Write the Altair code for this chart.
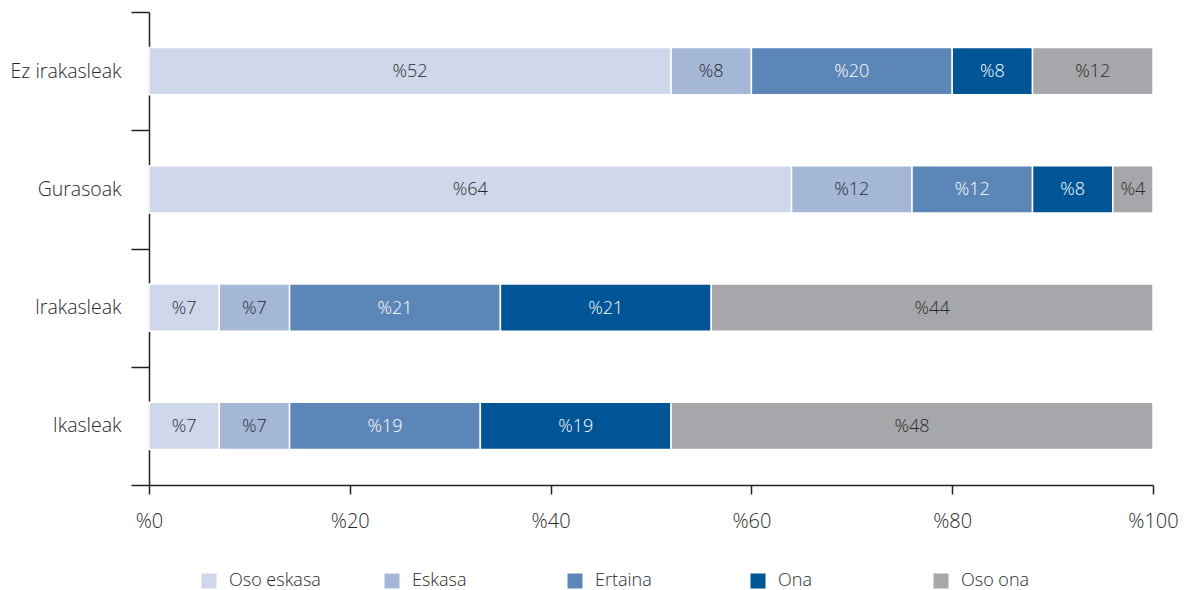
import altair as alt
import pandas as pd

groups = ["Ez irakasleak", "Gurasoak", "Irakasleak", "Ikasleak"]
categories = ["Oso eskasa", "Eskasa", "Ertaina", "Ona", "Oso ona"]
colors = ["#CFD8EA", "#A4B7D7", "#5D86B8", "#005596", "#A6A7AB"]
values = {
    "Ez irakasleak": [52, 8, 20, 8, 12],
    "Gurasoak": [64, 12, 12, 8, 4],
    "Irakasleak": [7, 7, 21, 21, 44],
    "Ikasleak": [7, 7, 19, 19, 48],
}
x_ticks = [0, 20, 40, 60, 80, 100]

rows = []
for g in groups:
    for i, c in enumerate(categories):
        rows.append({"group": g, "cat": c, "idx": i, "value": values[g][i]})
df = pd.DataFrame(rows)

FONT = "Open Sans"
WEIGHT = 300
TXT = "#2a2a2a"

base = alt.Chart(df).transform_stack(
    stack="value", groupby=["group"], sort=[{"field": "idx", "order": "ascending"}], as_=["x0", "x1"]
).transform_calculate(mid="(datum.x0 + datum.x1) / 2")

yenc = alt.Y(
    "group:N",
    sort=groups,
    title=None,
    scale=alt.Scale(paddingInner=0, paddingOuter=0),
    axis=alt.Axis(
        tickBand="extent",
        tickSize=18,
        labelPadding=10,
        labelFontSize=19.5,
        labelColor=TXT,
        labelFont=FONT,
        labelFontWeight=WEIGHT,
        domainColor="#222222",
        tickColor="#222222",
        domainWidth=1.5,
        tickWidth=1.5,
    ),
)

bars = base.mark_bar(height={"band": 0.4}, stroke="white", strokeWidth=1.5).encode(
    x=alt.X(
        "x0:Q",
        scale=alt.Scale(domain=[0, 100], nice=False),
        title=None,
        axis=alt.Axis(
            values=x_ticks,
            labelExpr="'%' + datum.value",
            labelFlush=False,
            tickSize=9,
            labelPadding=17,
            labelFontSize=20,
            labelColor=TXT,
            labelFont=FONT,
            labelFontWeight=WEIGHT,
            grid=False,
            domainColor="#222222",
            tickColor="#222222",
            domainWidth=1.5,
            tickWidth=1.5,
        ),
    ),
    x2="x1:Q",
    y=yenc,
    color=alt.Color(
        "cat:N",
        scale=alt.Scale(domain=categories, range=colors),
        legend=alt.Legend(
            title=None,
            orient="none",
            legendX=51,
            legendY=560,
            direction="horizontal",
            columns=5,
            gridAlign="all",
            symbolType="square",
            symbolSize=225,
            symbolStrokeWidth=0,
            symbolOpacity=1,
            labelFontSize=18,
            labelFont=FONT,
            labelFontWeight=WEIGHT,
            labelColor=TXT,
            labelOffset=11,
            columnPadding=62,
            padding=0,
        ),
    ),
    order=alt.Order("idx:Q"),
)

labels = base.mark_text(
    fontSize=18, font=FONT, fontWeight=WEIGHT, baseline="middle", align="center", dy=1
).encode(
    x=alt.X("mid:Q"),
    y=alt.Y("group:N", sort=groups),
    text=alt.Text("label:N"),
    color=alt.condition(
        "datum.cat == 'Ertaina' || datum.cat == 'Ona'", alt.value("white"), alt.value(TXT)
    ),
).transform_calculate(label="'%' + datum.value")

chart = alt.layer(bars, labels).properties(
    width=1004,
    height=473,
    autosize=alt.AutoSizeParams(type="none"),
    padding={"left": 141, "top": 4, "right": 25, "bottom": 105},
).configure_view(stroke=None)

chart.save("out.html", embed_options={"renderer": "svg", "actions": False})
